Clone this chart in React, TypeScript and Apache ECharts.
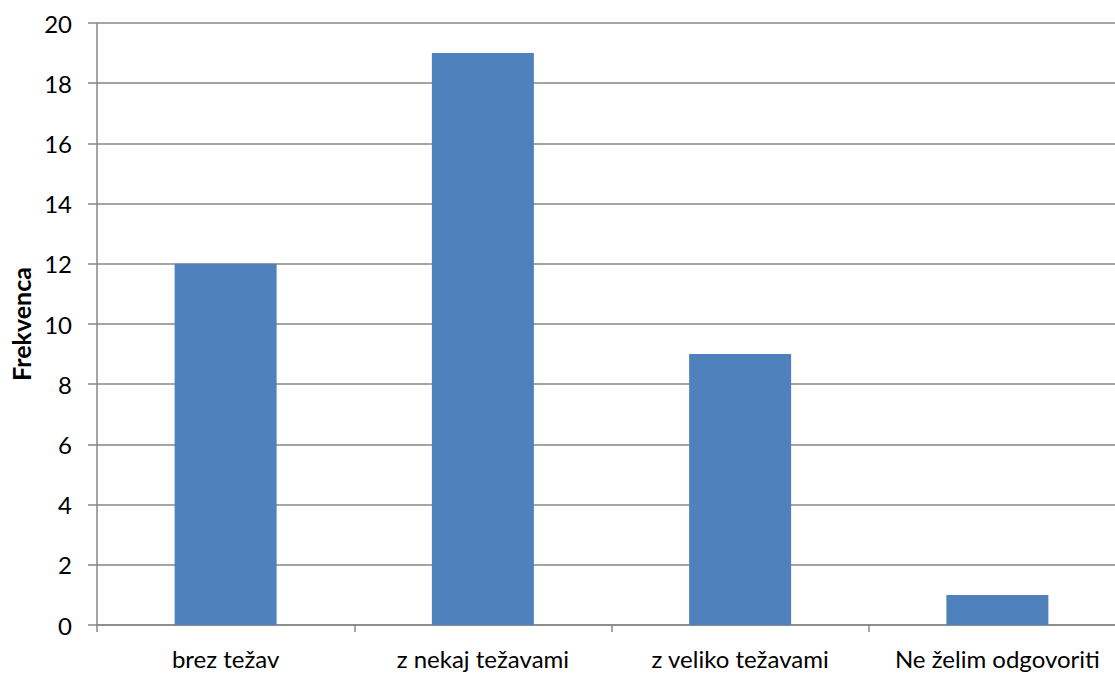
import React, { useEffect, useRef } from "react";
import * as echarts from "echarts";

const categories = ["brez težav", "z nekaj težavami", "z veliko težavami", "Ne želim odgovoriti"];
const values = [12, 19, 9, 1];
const yAxisName = "Frekvenca";

export default function App() {
  const ref = useRef<HTMLDivElement>(null);
  useEffect(() => {
    if (!ref.current) return;
    const chart = echarts.init(ref.current, null, { renderer: "svg" });
    const gray = "#878787";
    const font = "Lato";
    chart.setOption({
      animation: false,
      grid: { left: 96, top: 23, height: 602, width: 1030, containLabel: false },
      xAxis: {
        type: "category",
        data: categories,
        boundaryGap: true,
        axisLine: { show: true, lineStyle: { color: gray, width: 1.5 } },
        axisTick: { show: true, length: 7, lineStyle: { color: gray, width: 1.5 } },
        axisLabel: { margin: 21, color: "#000", fontSize: 24, fontFamily: font, interval: 0 },
        splitLine: { show: false },
      },
      yAxis: {
        type: "value",
        min: 0,
        max: 20,
        interval: 2,
        name: yAxisName,
        nameLocation: "middle",
        nameGap: 64,
        nameTextStyle: { color: "#000", fontSize: 25, fontWeight: "bold", fontFamily: font },
        axisLine: { show: true, lineStyle: { color: gray, width: 1.5 } },
        axisTick: { show: true, length: 9, lineStyle: { color: gray, width: 1.5 } },
        axisLabel: { margin: 25, color: "#000", fontSize: 24, fontFamily: font },
        splitLine: { show: true, lineStyle: { color: gray, width: 1.5 } },
      },
      series: [
        {
          type: "bar",
          data: values,
          barWidth: 102,
          itemStyle: { color: "#4F81BD" },
        },
      ],
    });
    return () => chart.dispose();
  }, []);
  return (
    <div style={{ width: 1115, height: 673, position: "absolute", left: 0, top: 0, overflow: "hidden" }}>
      <div ref={ref} style={{ width: 1140, height: 673 }} />
    </div>
  );
}
